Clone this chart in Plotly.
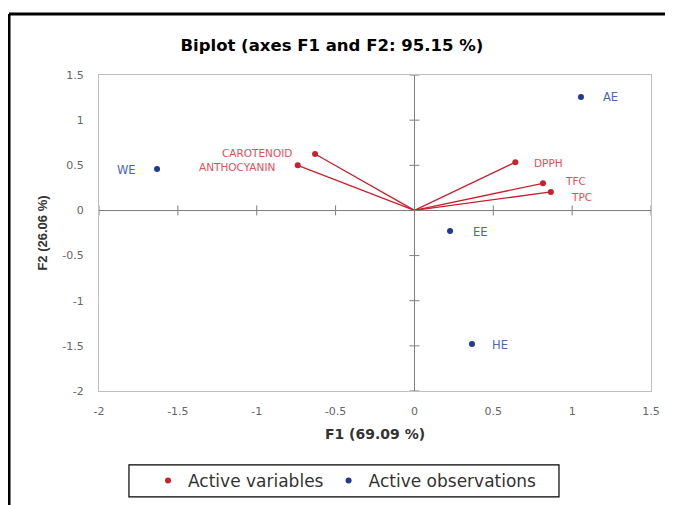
import plotly.graph_objects as go

# ---- data ----
var_names = ["CAROTENOID", "ANTHOCYANIN", "DPPH", "TFC", "TPC"]
var_f1 = [-0.63, -0.74, 0.64, 0.815, 0.865]
var_f2 = [0.625, 0.50, 0.535, 0.30, 0.205]

obs_names = ["AE", "WE", "EE", "HE"]
obs_f1 = [1.056, -1.632, 0.226, 0.365]
obs_f2 = [1.256, 0.46, -0.228, -1.48]

x_ticks = [-2, -1.5, -1, -0.5, 0, 0.5, 1, 1.5]
y_ticks = [-2, -1.5, -1, -0.5, 0, 0.5, 1, 1.5]

title_text = "Biplot (axes F1 and F2: 95.15 %)"
x_title = "F1 (69.09 %)"
y_title = "F2 (26.06 %)"

RED = "#c8202e"
RED_TXT = "#e0505a"
BLUE = "#1f3a8f"
BLUE_TXT = "#4a66b8"
LBL_FONT = "DejaVu Sans, Liberation Sans"

fig = go.Figure()

# vectors from origin
lx, ly = [], []
for a, b in zip(var_f1, var_f2):
    lx += [0, a, None]
    ly += [0, b, None]
fig.add_trace(go.Scatter(x=lx, y=ly, mode="lines", line=dict(color=RED, width=1.3),
                         showlegend=False, hoverinfo="skip"))
fig.add_trace(go.Scatter(x=var_f1, y=var_f2, mode="markers", name="Active variables",
                         marker=dict(color=RED, size=6)))
fig.add_trace(go.Scatter(x=obs_f1, y=obs_f2, mode="markers", name="Active observations",
                         marker=dict(color=BLUE, size=6)))

# label placement (style only)
var_shift = {"CAROTENOID": (-21, 1), "ANTHOCYANIN": (-21, -2), "DPPH": (17, -1),
             "TFC": (20, 2), "TPC": (18, -5)}
obs_shift = {"AE": (20, 0), "WE": (-19, -1), "EE": (21, -1), "HE": (18, -1)}

for n, a, b in zip(var_names, var_f1, var_f2):
    dx, dy = var_shift[n]
    fig.add_annotation(x=a, y=b, text=n, showarrow=False,
                       xanchor="right" if dx < 0 else "left", xshift=dx, yshift=dy,
                       font=dict(family=LBL_FONT, size=10.5, color=RED_TXT))
for n, a, b in zip(obs_names, obs_f1, obs_f2):
    dx, dy = obs_shift[n]
    fig.add_annotation(x=a, y=b, text=n, showarrow=False,
                       xanchor="right" if dx < 0 else "left", xshift=dx, yshift=dy,
                       font=dict(family=LBL_FONT, size=11.5, color=BLUE_TXT))

# crossing ticks on zero lines
shapes = []
for t in y_ticks:
    shapes.append(dict(type="line", xref="x", yref="y", xsizemode="pixel", xanchor=0,
                       x0=-5, x1=5, y0=t, y1=t, line=dict(color="#7f7f7f", width=1)))
for t in x_ticks:
    shapes.append(dict(type="line", xref="x", yref="y", ysizemode="pixel", yanchor=0,
                       y0=-5, y1=5, x0=t, x1=t, line=dict(color="#7f7f7f", width=1)))
# outer frame
shapes.append(dict(type="line", xref="paper", yref="paper", x0=-0.163, x1=1.2, y0=1.193, y1=1.193,
                   line=dict(color="black", width=3)))
shapes.append(dict(type="line", xref="paper", yref="paper", x0=-0.163, x1=-0.163, y0=1.193, y1=-0.5,
                   line=dict(color="black", width=3)))
# legend frame
shapes.append(dict(type="rect", xref="paper", yref="paper", x0=0.0543, x1=0.8333, y0=-0.234, y1=-0.335,
                   line=dict(color="black", width=1.2), fillcolor="rgba(0,0,0,0)"))

fig.update_layout(
    width=665, height=497,
    margin=dict(l=91, r=22, t=67, b=114, autoexpand=False),
    paper_bgcolor="white", plot_bgcolor="white",
    title=dict(text="<b>" + title_text + "</b>", x=0.487, xanchor="center", y=0.9256, yanchor="middle",
               font=dict(family="DejaVu Sans, Liberation Sans", size=16.5, color="black")),
    shapes=shapes,
    showlegend=True,
    legend=dict(orientation="h", x=0.0888, xanchor="left", y=-0.2845, yanchor="middle",
                borderwidth=0, bgcolor="rgba(0,0,0,0)",
                font=dict(family="DejaVu Sans, Liberation Sans", size=17, color="#333333"),
                itemwidth=30, tracegroupgap=0),
)
fig.update_xaxes(range=[-2, 1.5], tickvals=x_ticks, ticktext=[f"{v:g}" for v in x_ticks],
                 showgrid=False, zeroline=True, zerolinecolor="#7f7f7f", zerolinewidth=1,
                 showline=True, linecolor="#c0c0c0", linewidth=1, mirror=True,
                 ticks="", ticklabelstandoff=10,
                 tickfont=dict(family="DejaVu Sans, Liberation Sans", size=11, color="#666666"),
                 title=dict(text="<b>" + x_title + "</b>", standoff=11,
                            font=dict(family="DejaVu Sans, Liberation Sans", size=14, color="#333333")))
fig.update_yaxes(range=[-2, 1.5], tickvals=y_ticks, ticktext=[f"{v:g}" for v in y_ticks],
                 showgrid=False, zeroline=True, zerolinecolor="#7f7f7f", zerolinewidth=1,
                 showline=True, linecolor="#c0c0c0", linewidth=1, mirror=True,
                 ticks="", ticklabelstandoff=12,
                 tickfont=dict(family="DejaVu Sans, Liberation Sans", size=11, color="#666666"),
                 title=dict(text="<b>" + y_title + "</b>", standoff=11,
                            font=dict(family="Liberation Sans, Arial", size=13, color="#333333")))

fig.write_html("out.html")
